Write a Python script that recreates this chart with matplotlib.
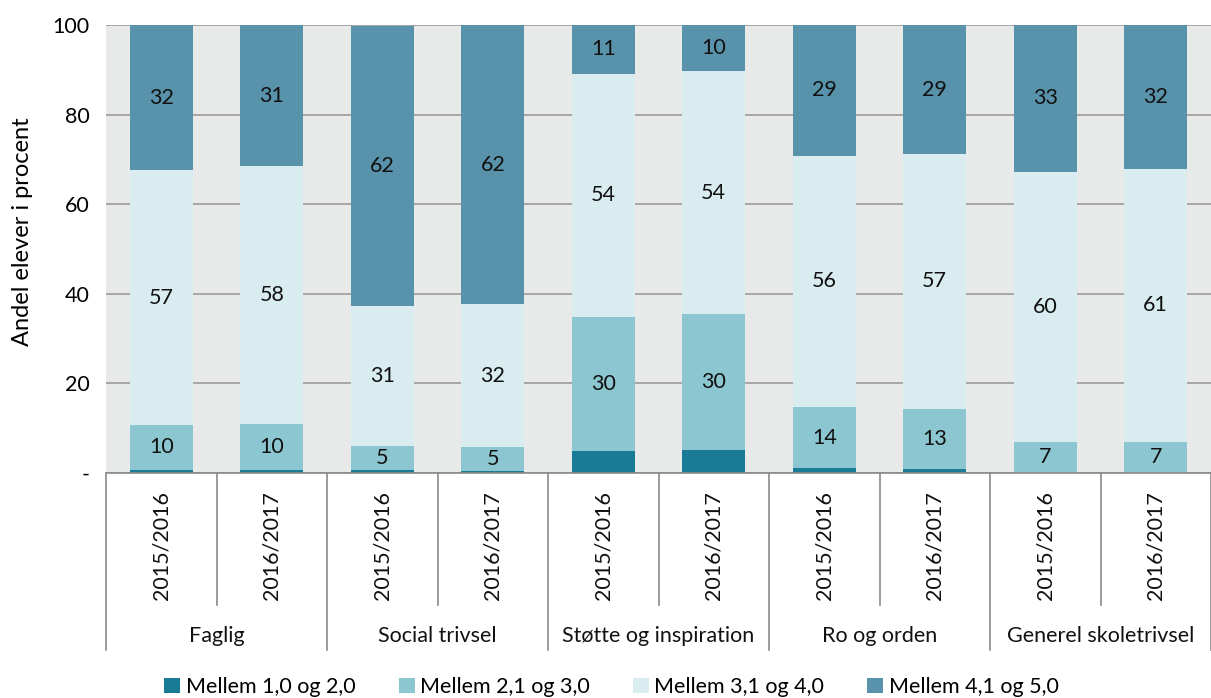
import matplotlib
matplotlib.use("Agg")
import matplotlib.pyplot as plt
import matplotlib.transforms as mtransforms
from matplotlib.patches import Patch
import numpy as np

plt.rcParams['font.family'] = ['Lato', 'DejaVu Sans']

groups = ["Faglig", "Social trivsel", "Støtte og inspiration", "Ro og orden", "Generel skoletrivsel"]
years = ["2015/2016", "2016/2017"]
series_names = ["Mellem 1,0 og 2,0", "Mellem 2,1 og 3,0", "Mellem 3,1 og 4,0", "Mellem 4,1 og 5,0"]
# order: Faglig 15/16, 16/17, Social..., Støtte..., Ro..., Generel...
s1 = [0.7, 0.7, 0.6, 0.5, 4.9, 5.1, 1.1, 1.0, 0.1, 0.1]
s2 = [10.0, 10.2, 5.4, 5.3, 29.9, 30.4, 13.6, 13.3, 6.8, 6.8]
s3 = [56.9, 57.6, 31.3, 31.9, 54.3, 54.2, 56.1, 56.9, 60.3, 61.0]
s4 = [32.4, 31.4, 62.5, 62.3, 10.9, 10.3, 29.2, 28.8, 32.8, 32.1]
colors = ["#1a7b96", "#8cc6d1", "#d9ecf0", "#5992ab"]
yticks = [0, 20, 40, 60, 80, 100]
ytick_labels = ["-", "20", "40", "60", "80", "100"]

FS = 15.5

fig = plt.figure(figsize=(12.11, 6.98), dpi=100)
ax = fig.add_axes([106/1211, 1-473/698, 1-106/1211, 448/698])
ax.set_facecolor("#e8e9e9")

n = len(s1)
x = np.arange(n)
width = 0.57
bottom = np.zeros(n)
for vals, col in zip([s1, s2, s3, s4], colors):
    vals = np.array(vals)
    ax.bar(x, vals, width, bottom=bottom, color=col, zorder=3)
    for xi, v, b in zip(x, vals, bottom):
        if v >= 4.5 and col != colors[0]:
            ax.text(xi, b + v/2, f"{round(v):d}", ha="center", va="center",
                    fontsize=FS, color="#111111", zorder=4)
    bottom += vals

ax.set_xlim(-0.5, n - 0.5)
ax.set_ylim(0, 100)
ax.set_yticks(yticks)
ax.set_yticklabels(ytick_labels, fontsize=FS)
ax.tick_params(axis="y", length=0, pad=12)
ax.tick_params(axis="x", length=0, labelbottom=False)
ax.yaxis.grid(True, color="#9a9a9a", linewidth=1.2, zorder=0)
ax.set_axisbelow(True)
for sp in ax.spines.values():
    sp.set_visible(False)
ax.set_ylabel("Andel elever i procent", fontsize=17)
ax.yaxis.set_label_coords(-0.066, 0.538)

trans = mtransforms.blended_transform_factory(ax.transData, ax.transAxes)
line_col = "#8a8a8a"
ax.plot([-0.5, n - 0.5], [0, 0], transform=trans, color=line_col, lw=1.2, clip_on=False, zorder=5)
for i in range(n + 1):
    xb = i - 0.5
    low = -0.395 if i % 2 == 0 else -0.295
    ax.plot([xb, xb], [0, low], transform=trans, color=line_col, lw=1.2, clip_on=False)
for i in range(n):
    ax.text(i, -0.04, years[i % 2], transform=trans, rotation=90, ha="center", va="top",
            fontsize=FS, color="#111111")
for g, name in enumerate(groups):
    ax.text(2*g + 0.5, -0.363, name, transform=trans, ha="center", va="center",
            fontsize=FS, color="#111111")

handles = [Patch(facecolor=c, edgecolor="none") for c in colors]
fig.legend(handles, series_names, loc="center", bbox_to_anchor=(0.505, 1-687/698), ncol=4,
           frameon=False, fontsize=FS, handlelength=0.75, handleheight=0.75,
           handletextpad=0.25, columnspacing=2.0)

fig.savefig("out.png", dpi=100)
